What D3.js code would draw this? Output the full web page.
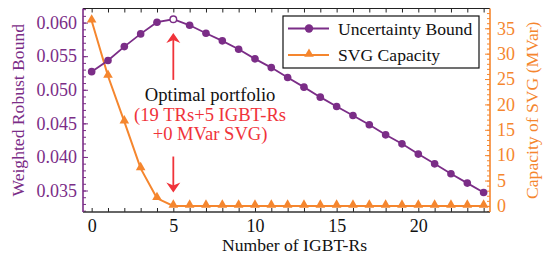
<!DOCTYPE html>
<html>
<head>
<meta charset="utf-8">
<script src="https://cdn.jsdelivr.net/npm/d3@7"></script>
<style>
  html, body { margin: 0; padding: 0; background: #fff; }
  svg { display: block; }
  svg text { font-family: "Liberation Serif", "Times New Roman", serif !important; }
</style>
</head>
<body>
<svg id="chart" width="544" height="254"></svg>
<script>
// number of IGBT-Rs
const igbt = d3.range(0, 25);
// weighted robust bound (left axis)
const bound = [0.0527, 0.05435, 0.05643, 0.05832, 0.06006, 0.0605, 0.0596, 0.05842, 0.05728,
  0.05604, 0.0546, 0.0533, 0.05182, 0.05039, 0.0489, 0.0475, 0.04616, 0.04478, 0.04329,
  0.04195, 0.04042, 0.03897, 0.03749, 0.0361, 0.0347];
// SVG capacity in MVar (right axis)
const svgCap = [36.5, 25.6, 16.6, 7.4, 1.5, 0, 0, 0, 0, 0, 0, 0, 0, 0, 0, 0, 0, 0, 0, 0, 0, 0, 0, 0, 0];
const optimalIdx = 5;

const xTicks = [0, 5, 10, 15, 20];
const leftTicks = [0.035, 0.040, 0.045, 0.050, 0.055, 0.060];
const rightTicks = [0, 5, 10, 15, 20, 25, 30, 35];
const seriesNames = ["Uncertainty Bound", "SVG Capacity"];
const noteLines = ["Optimal portfolio", "(19 TRs+5 IGBT-Rs", "+0 MVar SVG)"];

const purple = "#7b2d87";
const orange = "#f5862e";
const red = "#f0333a";

const svg = d3.select("#chart");
const plotL = 83, plotR = 490, plotT = 8.5, plotB = 212;

const x = d3.scaleLinear().domain([-0.53, 24.39]).range([plotL, plotR]);
const yL = d3.scaleLinear().domain([0.0318, 0.0621]).range([plotB, plotT]);
const yR = d3.scaleLinear().domain([-1.2, 38.9]).range([plotB, plotT]);

const fs = "17.6px";
const tickFs = "18px";
const noteFs = "18.6px";

// axes (ticks pointing inward)
const gBottom = svg.append("g").attr("transform", `translate(0,${plotB})`);
gBottom.call(d3.axisBottom(x).tickValues(igbt).tickSize(-4).tickFormat(""))
gBottom.call(g => g.select(".domain").remove());
gBottom.append("g").call(d3.axisBottom(x).tickValues(xTicks).tickSize(0).tickPadding(7).tickFormat(d3.format("d")))
  .call(g => g.select(".domain").remove())
  .selectAll("text").style("font-size", tickFs).attr("fill", "#111");
gBottom.selectAll("line").attr("stroke", "#222");

const gTop = svg.append("g").attr("transform", `translate(0,${plotT})`);
gTop.call(d3.axisTop(x).tickValues(igbt).tickSize(-4).tickFormat(""))
  .call(g => g.select(".domain").remove());
gTop.selectAll("line").attr("stroke", "#222");

const gLeft = svg.append("g").attr("transform", `translate(${plotL},0)`);
gLeft.call(d3.axisLeft(yL).tickValues(d3.range(0.032, 0.0621, 0.001)).tickSize(-3).tickFormat(""))
  .call(g => g.select(".domain").remove());
gLeft.append("g").call(d3.axisLeft(yL).tickValues(leftTicks).tickSize(-5).tickPadding(6).tickFormat(d3.format(".3f")))
  .call(g => g.select(".domain").remove())
  .selectAll("text").style("font-size", tickFs).attr("fill", purple);
gLeft.selectAll("line").attr("stroke", purple);

const gRight = svg.append("g").attr("transform", `translate(${plotR},0)`);
gRight.call(d3.axisRight(yR).tickValues(d3.range(-1, 39, 1)).tickSize(-3).tickFormat(""))
  .call(g => g.select(".domain").remove());
gRight.append("g").call(d3.axisRight(yR).tickValues(rightTicks).tickSize(-5).tickPadding(7).tickFormat(d3.format("d")))
  .call(g => g.select(".domain").remove())
  .selectAll("text").style("font-size", tickFs).attr("fill", orange);
gRight.selectAll("line").attr("stroke", orange);

// frame
svg.append("line").attr("x1", plotL).attr("x2", plotR).attr("y1", plotT).attr("y2", plotT).attr("stroke", "#222").attr("stroke-width", 1.2);
svg.append("line").attr("x1", plotL).attr("x2", plotR).attr("y1", plotB).attr("y2", plotB).attr("stroke", "#333").attr("stroke-width", 1.6);
svg.append("line").attr("x1", plotL).attr("x2", plotL).attr("y1", plotT).attr("y2", plotB).attr("stroke", purple).attr("stroke-width", 1.6);
svg.append("line").attr("x1", plotR).attr("x2", plotR).attr("y1", plotT).attr("y2", plotB).attr("stroke", orange).attr("stroke-width", 1.6);

// orange series
const tri = d3.symbol().type(d3.symbolTriangle).size(40);
svg.append("path")
  .attr("d", d3.line().x((d, i) => x(igbt[i])).y(d => yR(d))(svgCap))
  .attr("fill", "none").attr("stroke", orange).attr("stroke-width", 2);
svg.selectAll(".tri").data(svgCap).enter().append("path")
  .attr("class", "tri")
  .attr("d", tri)
  .attr("transform", (d, i) => `translate(${x(igbt[i])},${yR(d) - 1})`)
  .attr("fill", orange);

// purple series
svg.append("path")
  .attr("d", d3.line().x((d, i) => x(igbt[i])).y(d => yL(d))(bound))
  .attr("fill", "none").attr("stroke", purple).attr("stroke-width", 1.8);
svg.selectAll(".dot").data(bound).enter().append("circle")
  .attr("class", "dot")
  .attr("cx", (d, i) => x(igbt[i]))
  .attr("cy", d => yL(d))
  .attr("r", (d, i) => i === optimalIdx ? 3.3 : 3.8)
  .attr("fill", (d, i) => i === optimalIdx ? "#fff" : purple)
  .attr("stroke", purple)
  .attr("stroke-width", (d, i) => i === optimalIdx ? 1.4 : 0);

// annotation arrows (in left-axis units)
const arrows = [[0.05147, 0.05847], [0.04006, 0.0347]];
arrows.forEach(([from, to]) => {
  const ax = x(igbt[optimalIdx]);
  const y0 = yL(from), y1 = yL(to);
  const dir = y1 < y0 ? 1 : -1;
  svg.append("line").attr("x1", ax).attr("x2", ax).attr("y1", y0).attr("y2", y1 + dir * 6)
    .attr("stroke", red).attr("stroke-width", 1.8);
  svg.append("path")
    .attr("d", `M${ax},${y1} L${ax - 7},${y1 + dir * 10} L${ax},${y1 + dir * 7} L${ax + 7},${y1 + dir * 10} Z`)
    .attr("fill", red);
});

// annotation text
const noteX = x(7.25);
const noteY = [0.04837, 0.04539, 0.04252];
noteLines.forEach((t, i) => {
  svg.append("text").attr("x", noteX).attr("y", yL(noteY[i]))
    .attr("text-anchor", "middle").style("font-size", noteFs)
    .attr("fill", i === 0 ? "#111" : red).text(t);
});

// axis titles
svg.append("text").attr("x", (plotL + plotR) / 2 + 8).attr("y", 251)
  .attr("text-anchor", "middle").style("font-size", fs).attr("fill", "#111").text("Number of IGBT-Rs");
svg.append("text").attr("transform", `translate(24,${(plotT + plotB) / 2}) rotate(-90)`)
  .attr("text-anchor", "middle").style("font-size", fs).attr("fill", purple).text("Weighted Robust Bound");
svg.append("text").attr("transform", `translate(538,${(plotT + plotB) / 2}) rotate(-90)`)
  .attr("text-anchor", "middle").style("font-size", fs).attr("fill", orange).text("Capacity of SVG (MVar)");

// legend
const lg = svg.append("g").attr("transform", "translate(283,16)");
lg.append("rect").attr("width", 196).attr("height", 52).attr("fill", "#fff").attr("stroke", "#111").attr("stroke-width", 1.2);
seriesNames.forEach((name, i) => {
  const cy = 12.5 + i * 26.5;
  const c = i === 0 ? purple : orange;
  lg.append("line").attr("x1", 5).attr("x2", 46).attr("y1", cy).attr("y2", cy).attr("stroke", c).attr("stroke-width", i === 0 ? 1.8 : 2);
  if (i === 0) lg.append("circle").attr("cx", 26).attr("cy", cy).attr("r", 4.2).attr("fill", c);
  else lg.append("path").attr("d", tri).attr("transform", `translate(26,${cy - 1})`).attr("fill", c);
  lg.append("text").attr("x", 55).attr("y", cy + 6).style("font-size", fs).attr("fill", "#111").text(name);
});
</script>
</body>
</html>
